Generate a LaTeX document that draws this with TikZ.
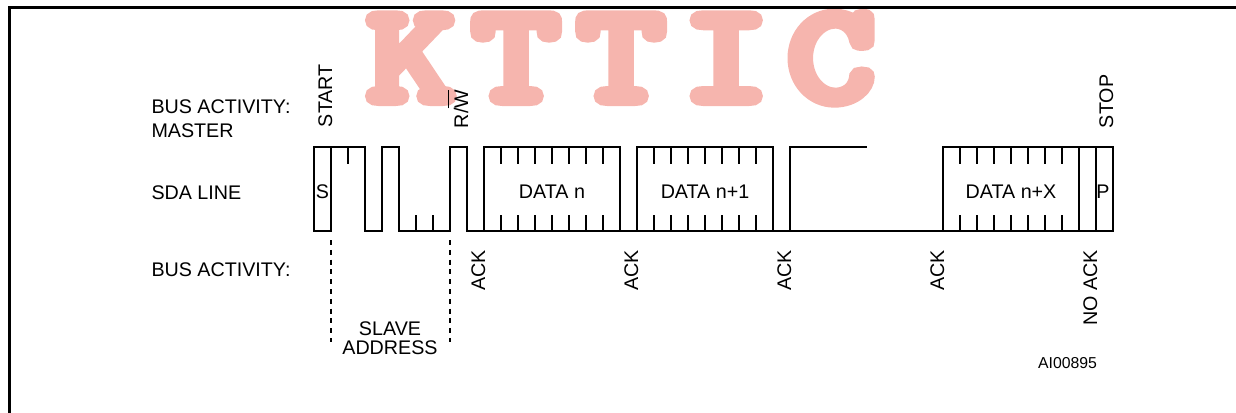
\documentclass[tikz,border=0pt]{standalone}
\usepackage{fontspec}
\setmainfont{Liberation Sans}
\definecolor{wmpink}{RGB}{246,181,174}
\newcommand{\wmletter}[1]{\makebox[105pt]{\scalebox{1.22}[1]{#1}}}
\newcommand{\wmboldon}{\special{pdf:literal direct 2 Tr 12 w}}
\newcommand{\wmboldoff}{\special{pdf:literal direct 0 Tr}}
\begin{document}
\begin{tikzpicture}[x=1pt,y=-1pt,
  lab/.style={font=\fontsize{19.7}{23}\selectfont, inner sep=0pt, outer sep=0pt},
  small/.style={font=\fontsize{15.8}{18}\selectfont, inner sep=0pt, outer sep=0pt},
  vlab/.style={lab, rotate=90},
  wave/.style={line width=2pt, line join=miter, line cap=butt},
  tickline/.style={line width=2pt},
  guide/.style={line width=1.2pt, dash pattern=on 5pt off 4.8pt},
  framestyle/.style={line width=2.5pt}]
\useasboundingbox (0,0) rectangle (1236,412);
\clip (0,0) rectangle (1236,412);
% watermark
\node[font=\ttfamily\fontsize{137}{137}\selectfont, text=wmpink, inner sep=0pt, anchor=base west] (wm) at (358.5,100) {\wmboldon\wmletter{K}\wmletter{T}\wmletter{T}\wmletter{I}\wmletter{C}\wmboldoff};
% frame
\draw[framestyle] (9.6,420) -- (9.6,7.6) -- (1240,7.6);
% left labels
\node[lab, anchor=base west] (bam1) at (151.5,113.5) {BUS ACTIVITY:};
\node[lab, anchor=base west] (bam2) at (151.5,137) {MASTER};
\node[lab, anchor=base west] (sda) at (151.5,199) {SDA LINE};
\node[lab, anchor=base west] (bas) at (151.5,276.7) {BUS ACTIVITY:};
% top rotated labels
\node[vlab, anchor=base west] (start) at (332,127) {START};
\node[vlab, anchor=base west] (rw) at (468,128) {R/\makebox[0pt][l]{\rule[19pt]{18.6pt}{1pt}}W};
\node[vlab, anchor=base west] (stop) at (1113,128) {STOP};
% waveform
\draw[wave] (331,146.5) -- (331,231) -- (314,231) -- (314,146.5) -- (365,146.5) -- (365,231)
  -- (382,231) -- (382,146.5) -- (399,146.5) -- (399,231) -- (450,231) -- (450,146.5)
  -- (467,146.5) -- (467,231) -- (484,231) -- (484,146.5) -- (620,146.5) -- (620,231)
  -- (637,231) -- (637,146.5) -- (773,146.5) -- (773,231) -- (790,231) -- (790,146.5)
  -- (866.5,146.5);
\draw[wave] (467,231) -- (1113,231) -- (1113,146.5) -- (943,146.5) -- (943,231);
\draw[wave] (1079,146.5) -- (1079,231);
\draw[wave] (1096,146.5) -- (1096,231);
% bit ticks
\foreach \x in {348,501,518,535,552,569,586,603,654,671,688,705,722,739,756,960,977,994,1011,1028,1045,1062}
  \draw[tickline] (\x,146.5) -- (\x,163.5);
\foreach \x in {416,433,501,518,535,552,569,586,603,654,671,688,705,722,739,756,960,977,994,1011,1028,1045,1062}
  \draw[tickline] (\x,231) -- (\x,215);
% in-line labels
\node[lab, anchor=base] (s) at (322.5,198.5) {S};
\node[lab, anchor=base] (d0) at (552,198.5) {DATA n};
\node[lab, anchor=base] (d1) at (705,198.5) {DATA n+1};
\node[lab, anchor=base] (dx) at (1011,198.5) {DATA n+X};
\node[lab, anchor=base] (p) at (1103,198.5) {P};
% ack labels
\node[vlab, anchor=base east] (ack1) at (485,250) {ACK};
\node[vlab, anchor=base east] (ack2) at (638,250) {ACK};
\node[vlab, anchor=base east] (ack3) at (791,250) {ACK};
\node[vlab, anchor=base east] (ack4) at (944,250) {ACK};
\node[vlab, anchor=base east] (nack) at (1097,250) {NO ACK};
% slave address
\coordinate (g1a) at (331,240);
\coordinate (g1b) at (331,342);
\coordinate (g2a) at (450,240);
\coordinate (g2b) at (450,342);
\draw[guide] (g1a) -- (g1b);
\draw[guide] (g2a) -- (g2b);
\node[lab, anchor=base] (sl1) at (390,335) {SLAVE};
\node[lab, anchor=base] (sl2) at (390,354) {ADDRESS};
\node[small, anchor=base east] (code) at (1097,368) {AI00895};
\end{tikzpicture}
\end{document}
